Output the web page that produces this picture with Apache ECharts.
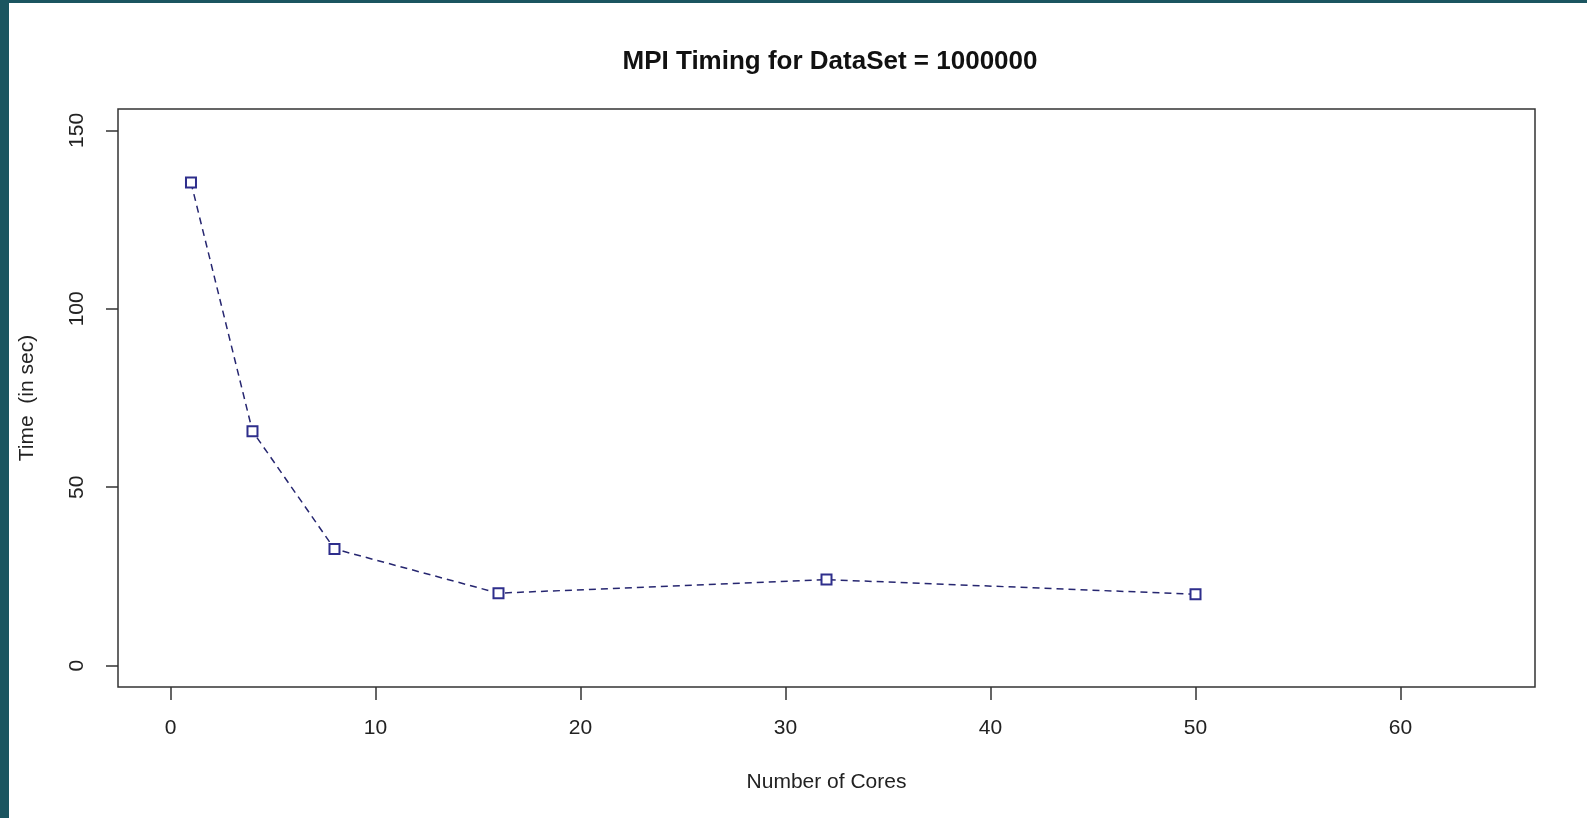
<!DOCTYPE html>
<html>
<head>
<meta charset="utf-8">
<script src="https://cdn.jsdelivr.net/npm/echarts@6.0.0/dist/echarts.min.js"></script>
<style>
  html, body { margin: 0; padding: 0; }
  body { width: 1587px; height: 818px; background: #1b5560; position: relative; overflow: hidden; }
  #chart { position: absolute; left: 9px; top: 3px; width: 1578px; height: 815px; background: #fff; }
</style>
</head>
<body>
<div id="chart"></div>
<script>
// number of cores vs run time (seconds)
const cores = [1, 4, 8, 16, 32, 50];
const timeSec = [135.4, 65.7, 32.7, 20.3, 24.1, 20.0];
const xTicks = [0, 10, 20, 30, 40, 50, 60];
const yTicks = [0, 50, 100, 150];

const chart = echarts.init(document.getElementById('chart'));

const axisFont = { fontFamily: 'Liberation Sans, Arial, sans-serif', fontSize: 21, color: '#222' };

chart.setOption({
  animation: false,
  title: {
    text: 'MPI Timing for DataSet = 1000000',
    left: 816,
    top: 41,
    textAlign: 'center',
    textStyle: { fontFamily: 'Liberation Sans, Arial, sans-serif', fontSize: 26, fontWeight: 'bold', color: '#111' }
  },
  grid: {
    left: 107, top: 106, right: 52, bottom: 131,
    show: true, borderColor: '#333', borderWidth: 1.5, backgroundColor: 'transparent'
  },
  xAxis: {
    type: 'value',
    min: -2.56, max: 66.56,
    name: 'Number of Cores',
    nameLocation: 'middle',
    nameGap: 85,
    nameTextStyle: axisFont,
    axisLine: { show: false, onZero: false },
    splitLine: { show: false },
    axisTick: { show: true, length: 13, customValues: xTicks, lineStyle: { color: '#333', width: 1.5 } },
    axisLabel: { customValues: xTicks, margin: 31, ...axisFont }
  },
  yAxis: {
    type: 'value',
    min: -6, max: 156,
    name: 'Time  (in sec)',
    nameLocation: 'middle',
    nameGap: 80,
    nameTextStyle: axisFont,
    axisLine: { show: false, onZero: false },
    splitLine: { show: false },
    axisTick: { show: true, length: 12, customValues: yTicks, lineStyle: { color: '#333', width: 1.5 } },
    axisLabel: { customValues: yTicks, margin: 30, rotate: 90, ...axisFont }
  },
  series: [
    {
      type: 'line',
      data: cores.map((c, i) => [c, timeSec[i]]),
      symbol: 'emptyRect',
      symbolSize: 10,
      lineStyle: { color: '#262670', width: 1.5, type: [7, 5] },
      itemStyle: { color: '#2e2e8c', borderColor: '#2e2e8c', borderWidth: 1.6 }
    }
  ]
});
</script>
</body>
</html>
